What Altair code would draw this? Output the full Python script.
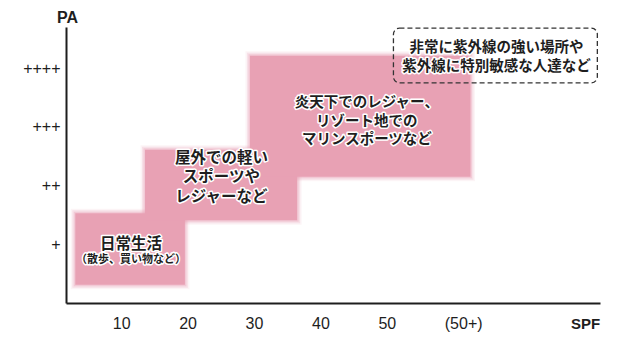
import altair as alt
import pandas as pd

# ---- axis ticks ----
spf_pos = [1, 2, 3, 4, 5, 6.15]
spf_labels = ["10", "20", "30", "40", "50", "(50+)"]
pa_pos = [1, 2, 3, 4]
pa_labels = ["+", "++", "+++", "++++"]

# ---- zones (SPF on x, PA on y) ----
zone_x0 = [0.31, 1.36, 2.94]
zone_x1 = [1.96, 3.65, 6.26]
zone_y0 = [0.31, 1.41, 2.15]
zone_y1 = [1.53, 2.61, 4.21]

# ---- note box ----
box_x0 = [5.10]
box_x1 = [8.17]
box_y0 = [3.75]
box_y1 = [4.68]

# ---- text lines ----
big_text = ["日常生活", "屋外での軽い", "スポーツや", "レジャーなど"]
big_x = [1.15, 2.51, 2.51, 2.51]
big_y = [1.00, 2.47, 2.15, 1.81]

main_text = ["炎天下でのレジャー、", "リゾート地での", "マリンスポーツなど",
             "非常に紫外線の強い場所や", "紫外線に特別敏感な人達など"]
main_x = [4.70, 4.70, 4.70, 6.65, 6.65]
main_y = [3.41, 3.08, 2.78, 4.34, 4.02]

sub_text = ["（散歩、買い物など）"]
sub_x = [1.15]
sub_y = [0.73]

pink = "#E8A1B4"
ink = "#1e1e1e"
jp_font = "Noto Sans CJK JP"

zones = pd.DataFrame({"x0": zone_x0, "x1": zone_x1, "y0": zone_y0, "y1": zone_y1})
box = pd.DataFrame({"x0": box_x0, "x1": box_x1, "y0": box_y0, "y1": box_y1})
bigs = pd.DataFrame({"t": big_text, "x": big_x, "y": big_y})
mains = pd.DataFrame({"t": main_text, "x": main_x, "y": main_y})
subs = pd.DataFrame({"t": sub_text, "x": sub_x, "y": sub_y})

spf_expr = "[" + ",".join("'%s'" % s for s in spf_labels) + "][indexof([" + ",".join(str(v) for v in spf_pos) + "], datum.value)]"
pa_expr = "[" + ",".join("'%s'" % s for s in pa_labels) + "][indexof([" + ",".join(str(v) for v in pa_pos) + "], datum.value)]"

xscale = alt.Scale(domain=[0.17, 8.21], nice=False, zero=False)
yscale = alt.Scale(domain=[0, 4.7], nice=False, zero=False)

x_axis = alt.Axis(values=spf_pos, labelExpr=spf_expr, ticks=False, tickSize=0, grid=False,
                  domainColor=ink, domainWidth=2, labelFont="Liberation Sans", labelFontSize=16,
                  labelColor=ink, labelPadding=20, labelBaseline="middle", labelFlush=False,
                  title="SPF", titleFont="Liberation Sans", titleFontSize=15, titleFontWeight="bold",
                  titleColor=ink, titleX=519, titleY=20, titleAlign="center", titleBaseline="middle",
                  titleAngle=0)
y_axis = alt.Axis(values=pa_pos, labelExpr=pa_expr, ticks=False, tickSize=0, grid=False,
                  domainColor=ink, domainWidth=2, labelFont="Liberation Sans", labelFontSize=16,
                  labelColor=ink, labelPadding=6, labelBaseline="middle", labelFlush=False,
                  title="PA", titleFont="Liberation Sans", titleFontSize=16, titleFontWeight="bold",
                  titleColor=ink, titleX=1, titleY=-10, titleAlign="center", titleBaseline="middle",
                  titleAngle=0)

def rect_enc(ch):
    return ch.encode(
        x=alt.X("x0:Q", scale=xscale, axis=x_axis),
        x2="x1:Q",
        y=alt.Y("y0:Q", scale=yscale, axis=y_axis),
        y2="y1:Q",
    )

halo1 = rect_enc(alt.Chart(zones).mark_rect(fillOpacity=0, stroke=pink, strokeWidth=9, strokeOpacity=0.12))
halo2 = rect_enc(alt.Chart(zones).mark_rect(fillOpacity=0, stroke=pink, strokeWidth=6, strokeOpacity=0.22))
halo3 = rect_enc(alt.Chart(zones).mark_rect(fillOpacity=0, stroke=pink, strokeWidth=3, strokeOpacity=0.35))
core = rect_enc(alt.Chart(zones).mark_rect(color=pink))
note = rect_enc(alt.Chart(box).mark_rect(fillOpacity=0, stroke="#333333", strokeWidth=1.3,
                                         strokeDash=[5, 3], cornerRadius=6))

def text_layers(df, size):
    base = alt.Chart(df).encode(
        x=alt.X("x:Q", scale=xscale),
        y=alt.Y("y:Q", scale=yscale),
        text="t:N",
    )
    bg = base.mark_text(font=jp_font, fontSize=size, fontWeight="bold", color="white",
                        stroke="white", strokeWidth=3, strokeJoin="round", baseline="middle", align="center")
    fg = base.mark_text(font=jp_font, fontSize=size, fontWeight="bold", color=ink,
                        baseline="middle", align="center")
    return bg, fg

b_bg, b_fg = text_layers(bigs, 15.5)
m_bg, m_fg = text_layers(mains, 14.5)
s_bg, s_fg = text_layers(subs, 11)

chart = alt.layer(halo1, halo2, halo3, core, note, b_bg, m_bg, s_bg, b_fg, m_fg, s_fg).properties(
    width=534, height=276,
    autosize=alt.AutoSizeParams(type="none"),
    padding={"left": 66, "top": 27, "right": 20, "bottom": 43},
    background="white",
).configure_view(stroke=None)

chart.save("out.html", embed_options={"renderer": "svg", "actions": False})
